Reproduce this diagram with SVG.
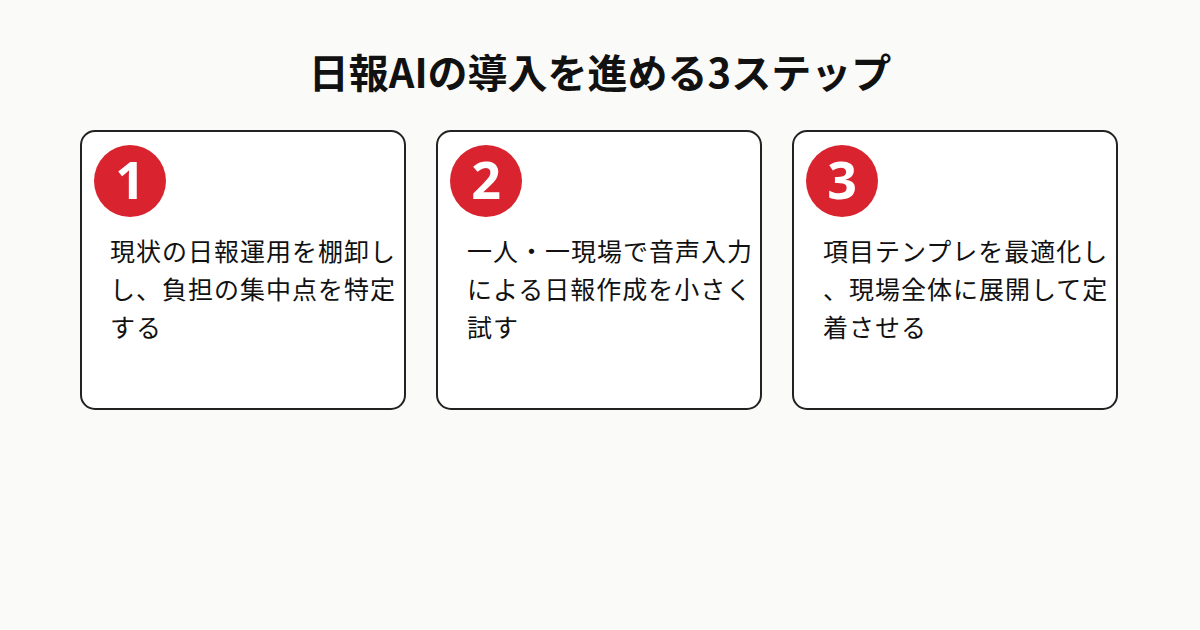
<svg xmlns="http://www.w3.org/2000/svg" width="1200" height="630" viewBox="0 0 1200 630">
<style>
.t{font-family:"Noto Sans CJK JP","Noto Sans",sans-serif;fill:#111}
.card{fill:#fff;stroke:#222;stroke-width:2}
.c{fill:#d9232e}
.n{font-family:"Noto Sans","Noto Sans CJK JP",sans-serif;font-weight:700;font-size:52px;fill:#fff;text-anchor:middle}
.b{font-size:25px;letter-spacing:1px}
</style>
<rect width="1200" height="630" fill="#fafaf8"/>
<text class="t" x="600" y="88" font-size="40" font-weight="700" text-anchor="middle">日報AIの導入を進める3ステップ</text>
<g id="step1">
<rect class="card" x="81" y="131" width="324" height="278" rx="14"/>
<circle class="c" cx="130" cy="181" r="36"/>
<text class="n" x="130" y="199">1</text>
<text class="t b" x="110" y="261">現状の日報運用を棚卸し</text>
<text class="t b" x="110" y="299">し、負担の集中点を特定</text>
<text class="t b" x="110" y="337">する</text>
</g>
<g id="step2">
<rect class="card" x="437" y="131" width="324" height="278" rx="14"/>
<circle class="c" cx="486" cy="181" r="36"/>
<text class="n" x="486" y="199">2</text>
<text class="t b" x="467" y="261">一人・一現場で音声入力</text>
<text class="t b" x="467" y="299">による日報作成を小さく</text>
<text class="t b" x="467" y="337">試す</text>
</g>
<g id="step3">
<rect class="card" x="793" y="131" width="324" height="278" rx="14"/>
<circle class="c" cx="842" cy="181" r="36"/>
<text class="n" x="842" y="199">3</text>
<text class="t b" x="823" y="261">項目テンプレを最適化し</text>
<text class="t b" x="823" y="299">、現場全体に展開して定</text>
<text class="t b" x="823" y="337">着させる</text>
</g>
<g id="connectors"/>
</svg>
